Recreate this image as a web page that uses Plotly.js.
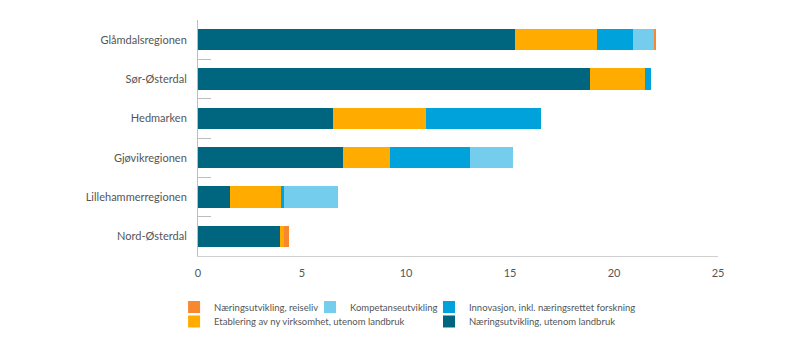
<!DOCTYPE html>
<html>
<head>
<meta charset="utf-8">
<script src="https://cdn.plot.ly/plotly-3.0.1.min.js"></script>
<style>html,body{margin:0;padding:0;background:#fff;}#chart{width:812px;height:350px;}</style>
</head>
<body>
<div id="chart"></div>
<script>
var regions = ["Glåmdalsregionen", "Sør-Østerdal", "Hedmarken", "Gjøvikregionen", "Lillehammerregionen", "Nord-Østerdal"];

var seriesNames = [
  "Næringsutvikling, utenom landbruk",
  "Etablering av ny virksomhet, utenom landbruk",
  "Innovasjon, inkl. næringsrettet forskning",
  "Kompetanseutvikling",
  "Næringsutvikling, reiseliv"
];

var naeringUtenomLandbruk = [15.24, 18.85, 6.49, 6.96, 1.52, 3.93];
var etablering            = [3.96, 2.65, 4.46, 2.29, 2.46, 0.19];
var innovasjon            = [1.72, 0.30, 5.52, 3.83, 0.15, 0];
var kompetanse            = [0.98, 0, 0, 2.05, 2.58, 0];
var reiseliv              = [0.12, 0, 0, 0, 0, 0.26];

var colors = ["#00667f", "#ffab00", "#00a2dc", "#75cdee", "#f7882f"];
var legendIds = ["legend5", "legend4", "legend3", "legend2", "legend"];
var values = [naeringUtenomLandbruk, etablering, innovasjon, kompetanse, reiseliv];

var traces = values.map(function (v, i) {
  return {
    type: "bar",
    orientation: "h",
    name: seriesNames[i],
    x: v,
    y: regions,
    marker: {color: colors[i], line: {width: 0}},
    legend: legendIds[i],
    hoverinfo: "x+name"
  };
});

var legendFont = {family: "Lato, sans-serif", size: 9.5, color: "#555"};
function legendAt(x, y) {
  return {
    x: x, xanchor: "left", y: y, yanchor: "top",
    orientation: "v", font: legendFont, bgcolor: "rgba(255,255,255,0)",
    borderwidth: 0, tracegroupgap: 0, itemwidth: 30
  };
}
var row1 = -0.1547, row2 = -0.216;
var col1 = -0.046, col2 = 0.2154, col3 = 0.4442;

var layout = {
  width: 812, height: 350,
  margin: {l: 198, r: 94, t: 20, b: 94, autoexpand: false},
  paper_bgcolor: "#fff", plot_bgcolor: "#fff",
  barmode: "stack", bargap: 0.46,
  font: {family: "Lato, sans-serif", color: "#555", size: 11},
  showlegend: true,
  xaxis: {
    range: [0, 25], tickvals: [0, 5, 10, 15, 20, 25],
    showgrid: false, zeroline: false,
    showline: true, linecolor: "#d0d0d0", linewidth: 1,
    ticks: "", tickfont: {size: 11, color: "#555"},
    ticklabelstandoff: 7, fixedrange: true
  },
  yaxis: {
    type: "category", autorange: "reversed",
    showgrid: false, zeroline: false,
    showline: true, linecolor: "#bdbdbd", linewidth: 1,
    ticks: "inside", tickson: "boundaries", ticklen: 13, tickcolor: "#bdbdbd", tickwidth: 1,
    tickfont: {size: 11, color: "#555"}, ticklabelstandoff: 8, fixedrange: true
  },
  legend: legendAt(col1, row1),
  legend2: legendAt(col2, row1),
  legend3: legendAt(col3, row1),
  legend4: legendAt(col1, row2),
  legend5: legendAt(col3, row2)
};

Plotly.newPlot("chart", traces, layout, {displayModeBar: false, staticPlot: true});
</script>
</body>
</html>
